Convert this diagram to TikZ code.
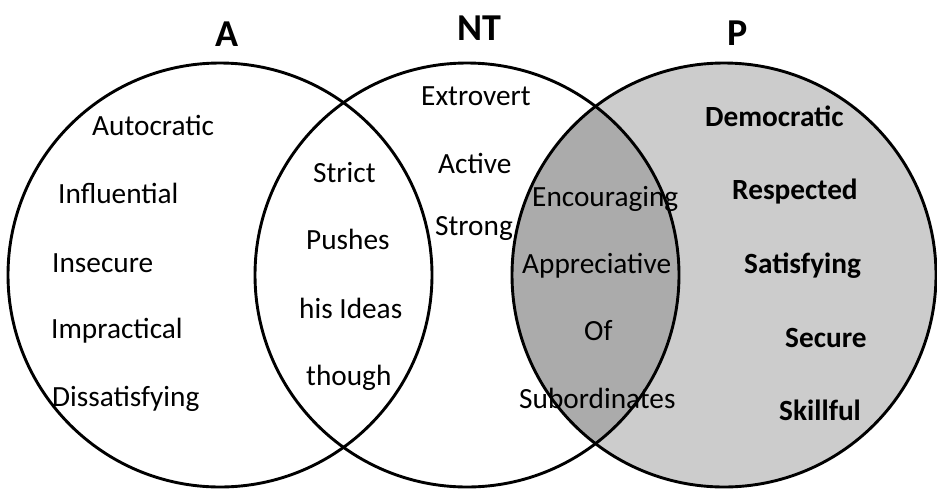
\documentclass[tikz,border=0pt]{standalone}
\usepackage{fontspec}
\setmainfont{Carlito}
\definecolor{plight}{gray}{0.80}
\definecolor{pdark}{gray}{0.67}
\begin{document}
\begin{tikzpicture}[x=1pt,y=-1pt,
  word/.style={anchor=base west,inner sep=0pt,font=\fontsize{29.3}{31}\selectfont},
  bword/.style={word,font=\fontsize{29.3}{31}\selectfont\bfseries},
  title/.style={anchor=base,inner sep=0pt,font=\fontsize{38}{40}\selectfont\bfseries},
  ring/.style={draw=black,line width=2.9pt}]
\useasboundingbox[fill=white] (0,0) rectangle (937,488);
% shading
\fill[plight] (724,275) circle[radius=212pt];
\begin{scope}
  \clip (467,275) circle[radius=212pt];
  \fill[pdark] (724,275) circle[radius=212pt];
\end{scope}
% titles
\node[title] (tA) at (227.5,46) {A};
\node[title] (tNT) at (479,40) {NT};
\node[title] (tP) at (737.5,45) {P};
% A only
\node[word] (autoc) at (92,135) {Autocratic};
\node[word] (influ) at (58,203) {Influential};
\node[word] (insec) at (52,272) {Insecure};
\node[word] (impra) at (51,338) {Impractical};
\node[word] (dissa) at (52,406) {Dissatisfying};
% A and NT
\node[word] (strict) at (313,182) {Strict};
\node[word] (pushes) at (306,249) {Pushes};
\node[word] (hisid) at (299,318) {his Ideas};
\node[word] (though) at (306,385) {though};
% NT only
\node[word] (extro) at (421,105) {Extrovert};
\node[word] (active) at (438,173) {Active};
\node[word] (strong) at (435,235) {Strong};
% NT and P
\node[word] (encou) at (532,206) {Encouraging};
\node[word] (appre) at (522,273) {Appreciative};
\node[word] (of) at (584,340) {Of};
\node[word] (subor) at (519,408) {Subordinates};
% P only
\node[bword] (democ) at (705,126) {Democratic};
\node[bword] (respe) at (732,199) {Respected};
\node[bword] (satis) at (744,273) {Satisfying};
\node[bword] (secure) at (785,347) {Secure};
\node[bword] (skill) at (779,420) {Skillful};
% circles
\draw[ring] (220,275) circle[radius=212pt];
\draw[ring] (467,275) circle[radius=212pt];
\draw[ring] (724,275) circle[radius=212pt];
\end{tikzpicture}
\end{document}
